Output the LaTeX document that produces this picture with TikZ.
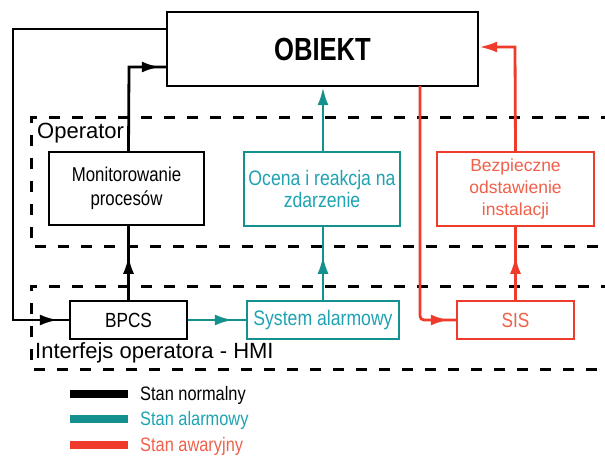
\documentclass[tikz,border=0pt]{standalone}
\usepackage{fontspec}
\setmainfont{Liberation Sans}
\newfontfamily\narrowfont{Liberation Sans}[FakeStretch=0.84]
\newfontfamily\titlefont{Liberation Sans}[FakeStretch=0.80]
\usetikzlibrary{arrows.meta,decorations.markings}
\definecolor{tealline}{HTML}{14908F}
\definecolor{tealtext}{HTML}{1FA3B3}
\definecolor{redline}{HTML}{EE3B2B}
\definecolor{redtext}{HTML}{F0604A}
\tikzset{
  box/.style={draw, line width=2.4pt, fill=white, inner sep=0pt, align=center,
    font=\narrowfont\fontsize{20}{24}\selectfont},
  conn/.style={line width=2.8pt},
  tip/.style={-{Latex[length=18pt,width=11pt]}},
  arrowat/.style={postaction={decorate},
    decoration={markings, mark=at position #1 with {\arrow{Latex[length=18pt,width=11pt]}}}},
  zone/.style={line width=3pt, dash pattern=on 11pt off 12pt},
  zonelabel/.style={anchor=west, inner sep=0pt, font=\fontsize{22}{24}\selectfont},
  legendbar/.style={line width=8pt},
  legendtext/.style={anchor=west, inner sep=0pt, font=\narrowfont\fontsize{19.5}{22}\selectfont},
}
\begin{document}
\begin{tikzpicture}[x=1pt, y=-1pt]
\useasboundingbox (0,0) rectangle (605,457);

% layer zones
\draw[zone] (612,118) -- (31,118) -- (31,246) -- (612,246);
\draw[zone] (612,286) -- (31,286) -- (31,369) -- (612,369);
\node[zonelabel] (oplabel) at (37,133) {Operator};
\node[zonelabel] (hmilabel) at (35,353) {Interfejs operatora - HMI};

% blocks
\node[box, minimum width=311pt, minimum height=74pt, font=\titlefont\bfseries\fontsize{32}{36}\selectfont]
  (obj) at (322.5,49) {OBIEKT};
\node[box, minimum width=155pt, minimum height=73pt] (mon) at (126.5,188.5)
  {Monitorowanie\\procesów};
\node[box, draw=tealline, text=tealtext, minimum width=156pt, minimum height=74pt,
  font=\narrowfont\fontsize{21}{22}\selectfont] (oce) at (322,189)
  {Ocena i reakcja na\\zdarzenie};
\node[box, draw=redline, text=redtext, minimum width=157pt, minimum height=74pt,
  font=\fontsize{17.5}{22}\selectfont] (bez) at (515.5,189)
  {Bezpieczne\\odstawienie\\instalacji};
\node[box, minimum width=117pt, minimum height=38pt, font=\narrowfont\fontsize{20.5}{22}\selectfont]
  (bpcs) at (128.5,320) {BPCS};
\node[box, draw=tealline, text=tealtext, minimum width=152pt, minimum height=38pt,
  font=\narrowfont\fontsize{21}{22}\selectfont] (alarm) at (323,320) {System alarmowy};
\node[box, draw=redline, text=redtext, minimum width=117pt, minimum height=38pt,
  font=\narrowfont\fontsize{20.5}{22}\selectfont] (sis) at (515.5,320) {SIS};

% normal state (black)
\coordinate (loopA) at (13,29);
\draw[conn, arrowat=-11pt] (obj.west |- loopA) -- (loopA) -- (loopA |- bpcs.west) -- (bpcs.west);
\draw[conn, arrowat=44pt] (bpcs.north) -- (bpcs.north |- mon.south);
\coordinate (monup) at (129,67);
\draw[conn, arrowat=-6pt] (bpcs.north |- mon.north) -- (monup) -- (monup -| obj.west);

% alarm state (teal)
\draw[conn, tealline, arrowat=-13pt] (bpcs.east) -- (alarm.west);
\draw[conn, tealline, arrowat=44pt] (alarm.north) -- (alarm.north |- oce.south);
\draw[conn, tealline, tip] (alarm.north |- oce.north) -- (alarm.north |- obj.south);

% emergency state (red)
\coordinate (redA) at (420,86);
\draw[conn, redline, arrowat=-7pt, rounded corners=4pt] (redA) -- (redA |- sis.west) -- (sis.west);
\draw[conn, redline, arrowat=44pt] (sis.north) -- (sis.north |- bez.south);
\coordinate (redB) at (515,47);
\draw[conn, redline, tip] (sis.north |- bez.north) -- (redB) -- (redB -| obj.east);

% legend
\coordinate (lgA) at (70,394);
\coordinate (lgB) at (70,419);
\coordinate (lgC) at (70,445);
\draw[legendbar, black] (lgA) -- ++(58,0);
\draw[legendbar, tealline] (lgB) -- ++(58,0);
\draw[legendbar, redline] (lgC) -- ++(58,0);
\node[legendtext] (lgtA) at (140,395) {Stan normalny};
\node[legendtext, text=tealtext] (lgtB) at (140,420) {Stan alarmowy};
\node[legendtext, text=redtext] (lgtC) at (140,446) {Stan awaryjny};
\end{tikzpicture}
\end{document}
